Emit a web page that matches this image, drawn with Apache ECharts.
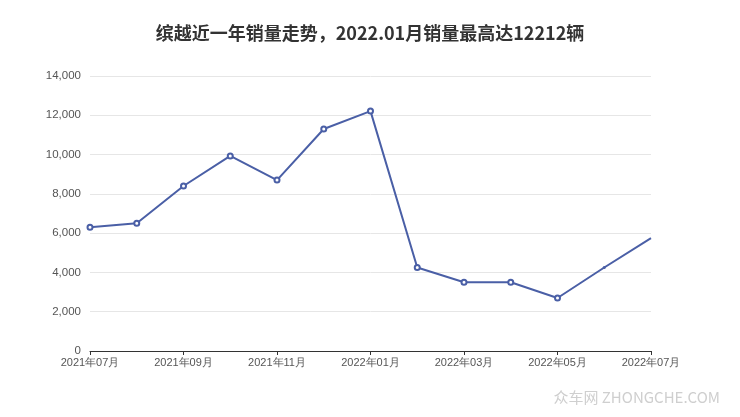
<!DOCTYPE html>
<html>
<head>
<meta charset="utf-8">
<script src="https://cdn.jsdelivr.net/npm/echarts@6/dist/echarts.min.js"></script>
<style>html,body{margin:0;padding:0;background:#fff;}#c{width:740px;height:417px;}</style>
</head>
<body>
<div id="c"></div>
<script>
const titleText = '缤越近一年销量走势，2022.01月销量最高达12212辆';
const categories = ['2021年07月','2021年08月','2021年09月','2021年10月','2021年11月','2021年12月','2022年01月','2022年02月','2022年03月','2022年04月','2022年05月','2022年06月','2022年07月'];
const sales = [6300, 6500, 8400, 9930, 8700, 11300, 12212, 4250, 3500, 3500, 2700, 4250, 5750];
const yTicks = [0, 2000, 4000, 6000, 8000, 10000, 12000, 14000];
const watermark = '众车网 ZHONGCHE.COM';

const chart = echarts.init(document.getElementById('c'));
const seriesData = sales.map((v, i) => {
  if (i === sales.length - 1) return { value: v, symbol: 'none' };
  if (i === sales.length - 2) return { value: v, symbol: 'circle', symbolSize: 3 };
  return v;
});
chart.setOption({
  animation: false,
  title: {
    text: titleText,
    left: 'center',
    top: 19,
    textStyle: { fontSize: 18, fontWeight: 'bold', color: '#333', fontFamily: 'Noto Sans CJK SC' }
  },
  grid: { left: 90, right: 89, top: 76, bottom: 66 },
  xAxis: {
    type: 'category',
    data: categories,
    boundaryGap: false,
    axisLine: { lineStyle: { color: '#333', width: 1 } },
    axisTick: { interval: 1, length: 4, lineStyle: { color: '#333' } },
    axisLabel: { interval: 1, color: '#555', fontSize: 11, margin: 6, fontFamily: 'Liberation Sans' }
  },
  yAxis: {
    type: 'value',
    min: yTicks[0],
    max: yTicks[yTicks.length - 1],
    interval: 2000,
    axisLine: { show: false },
    axisTick: { show: false },
    axisLabel: { color: '#555', fontSize: 11.5, margin: 9, fontFamily: 'Liberation Sans',
      formatter: v => v.toLocaleString('en-US') },
    splitLine: { lineStyle: { color: '#e6e6e6' } }
  },
  series: [{
    type: 'line',
    data: seriesData,
    symbol: 'emptyCircle',
    symbolSize: 5,
    lineStyle: { color: '#4a5fa6', width: 2 },
    itemStyle: { color: '#4a5fa6', borderWidth: 1.5 }
  }],
  graphic: [{
    type: 'text',
    right: 20,
    top: 390,
    style: { text: watermark, fill: '#cfcfcf', fontSize: 15, fontFamily: 'Noto Sans CJK SC' }
  }]
});
</script>
</body>
</html>
